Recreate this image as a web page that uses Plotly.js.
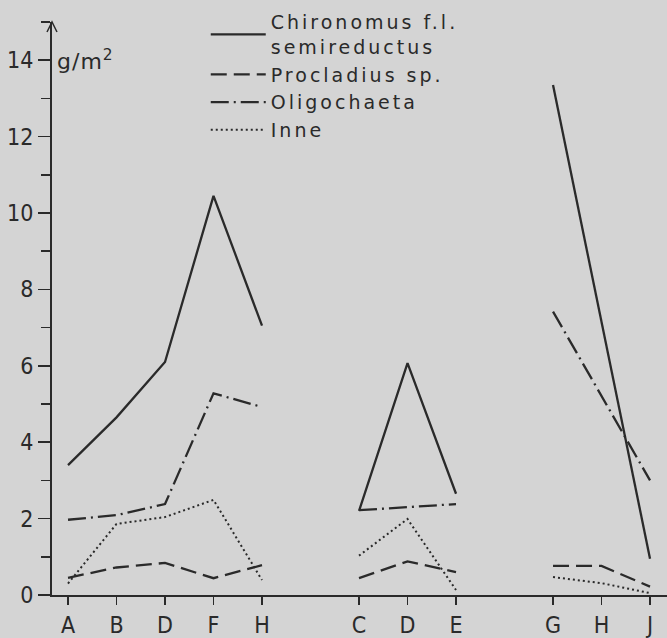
<!DOCTYPE html>
<html>
<head>
<meta charset="utf-8">
<script src="https://cdn.plot.ly/plotly-3.0.1.min.js"></script>
<style>
  html, body { margin: 0; padding: 0; background: #d4d4d4; }
  #chart { width: 667px; height: 638px; }
  .legendtext { letter-spacing: 3px; }
  .annotation-text { letter-spacing: 1px; }
</style>
</head>
<body>
<div id="chart"></div>
<script>
// Station groups (three transects), tick labels
const groups = [
  ["A", "B", "D", "F", "H"],
  ["C", "D", "E"],
  ["G", "H", "J"]
];

// Biomass, g/m2 (per group)
const chironomus  = [[3.4, 4.65, 6.1, 10.45, 7.05], [2.2, 6.07, 2.65], [13.35, null, 0.95]];
const procladius  = [[0.45, 0.72, 0.84, 0.44, 0.78], [0.44, 0.88, 0.6], [0.76, 0.76, 0.22]];
const oligochaeta = [[1.97, 2.09, 2.38, 5.28, 4.92], [2.22, 2.3, 2.38], [7.42, null, 3.0]];
const inne        = [[0.3, 1.86, 2.04, 2.49, 0.39], [1.03, 1.99, 0.13], [0.47, 0.31, 0.05]];

const seriesNames = ["Chironomus f.l.<br>semireductus", "Procladius sp.", "Oligochaeta", "Inne"];

// ---- build positions: consecutive stations, one empty slot between groups
const positions = [];
const tickText = [];
let p = 1;
groups.forEach((g) => {
  const pos = [];
  g.forEach(lbl => { pos.push(p); tickText.push(lbl); p++; });
  positions.push(pos);
  p++;
});
const tickVals = positions.flat();

const ink = "#2a2a2a";
const styles = [
  { dash: "solid", width: 2.3 },
  { dash: "16px,7px", width: 2.3 },
  { dash: "18px,5px,2px,5px", width: 2.3 },
  { dash: "2px,3px", width: 2 }
];
const allSeries = [chironomus, procladius, oligochaeta, inne];

const traces = [];
allSeries.forEach((series, si) => {
  series.forEach((vals, gi) => {
    const xs = [], ys = [];
    vals.forEach((v, i) => { if (v !== null) { xs.push(positions[gi][i]); ys.push(v); } });
    traces.push({
      type: "scatter", mode: "lines",
      x: xs, y: ys,
      name: seriesNames[si],
      legendgroup: "s" + si,
      showlegend: gi === 0,
      line: { color: ink, width: styles[si].width, dash: styles[si].dash },
      hoverinfo: "skip"
    });
  });
});

const fontFam = "'DejaVu Sans Condensed', 'DejaVu Sans', sans-serif";
const legendFam = "'DejaVu Sans', sans-serif";

const layout = {
  width: 667, height: 638,
  margin: { l: 52, r: 0, t: 22, b: 43, pad: 0 },
  paper_bgcolor: "#d4d4d4",
  plot_bgcolor: "#d4d4d4",
  font: { family: fontFam, color: ink, size: 22 },
  showlegend: true,
  legend: {
    x: 0.25, y: 1.033, xanchor: "left", yanchor: "top",
    bgcolor: "rgba(0,0,0,0)",
    font: { family: legendFam, size: 19, color: ink },
    tracegroupgap: 0,
    valign: "middle",
    itemwidth: 55
  },
  xaxis: {
    range: [0.67, 13.35],
    showline: true, linecolor: ink, linewidth: 2,
    showgrid: false, zeroline: false,
    tickmode: "array", tickvals: tickVals, ticktext: tickText,
    ticks: "outside", ticklen: 8, tickwidth: 1.5, tickcolor: ink,
    tickfont: { size: 23, family: fontFam, color: ink },
    fixedrange: true
  },
  yaxis: {
    range: [0, 15],
    showline: true, linecolor: ink, linewidth: 2,
    showgrid: false, zeroline: false,
    tickmode: "linear", tick0: 0, dtick: 2,
    ticks: "outside", ticklen: 12, tickwidth: 1.5, tickcolor: ink,
    tickfont: { size: 23, family: fontFam, color: ink },
    minor: { ticks: "outside", dtick: 1, ticklen: 9, tickwidth: 1.5, tickcolor: ink },
    fixedrange: true
  },
  annotations: [{
    xref: "paper", yref: "y", x: 0.005, y: 14, xanchor: "left", yanchor: "middle",
    text: "g/m<sup>2</sup>", showarrow: false,
    font: { family: legendFam, size: 22, color: ink }
  }],
  shapes: [{
    type: "path", xref: "paper", yref: "paper",
    xsizemode: "pixel", ysizemode: "pixel", xanchor: 0, yanchor: 1,
    path: "M-5,-10 L0,0 L5,-10",
    line: { color: ink, width: 1.5 }
  }]
};

Plotly.newPlot("chart", traces, layout, { displayModeBar: false, staticPlot: true });
</script>
</body>
</html>
